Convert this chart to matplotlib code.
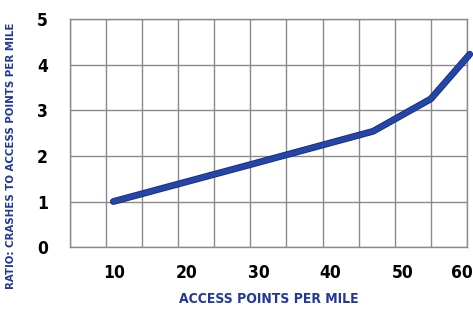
import matplotlib.pyplot as plt
import matplotlib.patheffects as pe
import matplotlib.transforms as mtransforms

# access points per mile vs ratio of crashes
access_points = [11, 30, 47, 55, 60.4]
crash_ratio = [1.0, 1.81, 2.54, 3.25, 4.23]
x_ticks = [10, 20, 30, 40, 50, 60]
y_ticks = [0, 1, 2, 3, 4, 5]

label_color = '#23389a'
font = 'DejaVu Sans'

fig = plt.figure(figsize=(4.73, 3.14), dpi=100)
ax = fig.add_axes([0.148, 0.213, 0.839, 0.726])

ax.plot(access_points, crash_ratio, color='#2446a8', lw=3.6, solid_capstyle='round',
        clip_on=False, zorder=3,
        path_effects=[pe.Stroke(linewidth=4.9, foreground='#1a2c78'), pe.Normal()])

ax.set_xlim(5, 60)
ax.set_ylim(0, 5)
ax.set_xticks(x_ticks)
ax.set_xticks(range(5, 61, 5), minor=True)
ax.set_yticks(y_ticks)
ax.grid(True, which='both', color='#8a8a8a', lw=1.0)
ax.tick_params(which='both', length=0, labelsize=12.5)
ax.tick_params(axis='x', pad=12)
ax.tick_params(axis='y', pad=16)

# labels sit a little right of their grid lines, 60 hugs the edge
shift = mtransforms.ScaledTranslation(8 / 100, 0, fig.dpi_scale_trans)
xlabels = ax.get_xticklabels()
for t in xlabels[:-1]:
    t.set_transform(t.get_transform() + shift)
xlabels[-1].set_horizontalalignment('right')
xlabels[-1].set_transform(xlabels[-1].get_transform()
                          + mtransforms.ScaledTranslation(6 / 100, 0, fig.dpi_scale_trans))
for t in xlabels + ax.get_yticklabels():
    t.set_fontfamily(font)
    t.set_fontstretch('condensed')
    t.set_fontweight('bold')
for s in ax.spines.values():
    s.set_color('#8a8a8a')
    s.set_linewidth(1.0)

ax.set_xlabel('ACCESS POINTS PER MILE', fontfamily=font, fontweight='bold',
              fontstretch='condensed', fontsize=10, color=label_color)
ax.xaxis.set_label_coords(0.5, -0.195)
ax.set_ylabel('RATIO: CRASHES TO ACCESS POINTS PER MILE', fontfamily=font,
              fontstretch='condensed', fontweight='bold', fontsize=8.2,
              color=label_color)
ax.yaxis.set_label_coords(-0.135, 0.4)

fig.savefig('out.png', dpi=100)
